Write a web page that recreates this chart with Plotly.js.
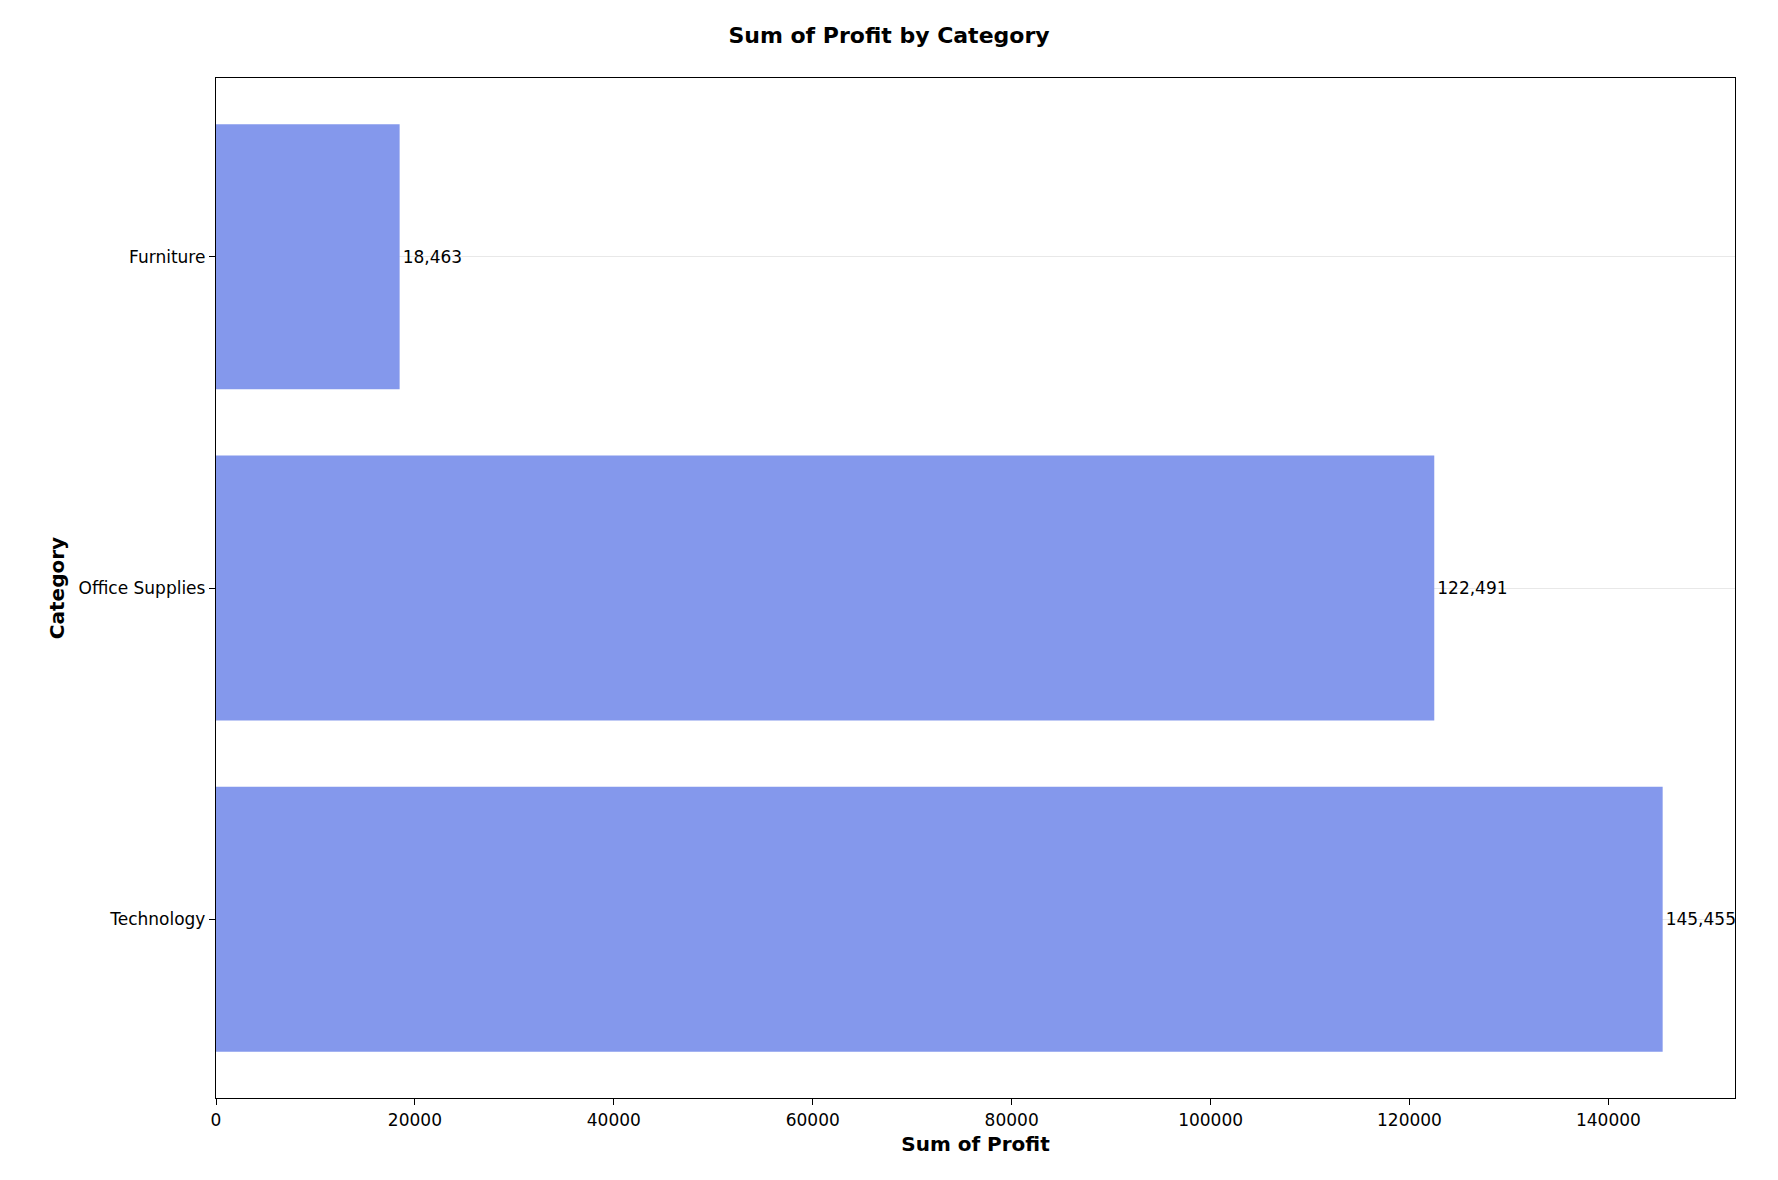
<!DOCTYPE html>
<html>
<head>
<script src="https://cdn.plot.ly/plotly-3.0.1.min.js"></script>
<style>body{margin:0;background:#fff}</style>
</head>
<body>
<div id="chart" style="width:1778px;height:1180px"></div>
<script>
const categories = ['Technology', 'Office Supplies', 'Furniture']
const profit = [145455, 122491, 18463]
const profitLabels = ['145,455', '122,491', '18,463']

const data = [{
    type: 'bar',
    orientation: 'h',
    y: categories,
    x: profit,
    width: 0.8,
    text: profitLabels,
    textposition: 'outside',
    cliponaxis: false,
    textfont: {size: 17, color: '#000'},
    marker: {color: '#8498ec'},
    hoverinfo: 'none'
}]

const layout = {
    width: 1778,
    height: 1180,
    margin: {l: 216, r: 43, t: 78, b: 82},
    font: {family: 'DejaVu Sans', size: 17, color: '#000'},
    plot_bgcolor: '#fff',
    paper_bgcolor: '#fff',
    showlegend: false,
    title: {text: '<b>Sum of Profit by Category</b>', x: 0.5, xanchor: 'center', y: 0.977, font: {size: 22}},
    xaxis: {
        range: [0, 152728],
        tickvals: [0, 20000, 40000, 60000, 80000, 100000, 120000, 140000],
        ticktext: ['0', '20000', '40000', '60000', '80000', '100000', '120000', '140000'],
        ticks: 'outside', ticklen: 6, tickcolor: '#000',
        showgrid: false, zeroline: false,
        showline: true, mirror: true, linecolor: '#000', linewidth: 1.3,
        title: {text: '<b>Sum of Profit</b>', font: {size: 20}, standoff: 8}
    },
    yaxis: {
        type: 'category',
        categoryorder: 'array',
        categoryarray: categories,
        range: [-0.54, 2.54],
        ticks: 'outside', ticklen: 6, tickcolor: '#000',
        showgrid: true, gridcolor: 'rgba(0,0,0,0.09)',
        zeroline: false,
        showline: true, mirror: true, linecolor: '#000', linewidth: 1.3,
        title: {text: '<b>Category</b>', font: {size: 20}, standoff: 8}
    }
}

Plotly.newPlot('chart', data, layout, {displayModeBar: false});
</script>
</body>
</html>
